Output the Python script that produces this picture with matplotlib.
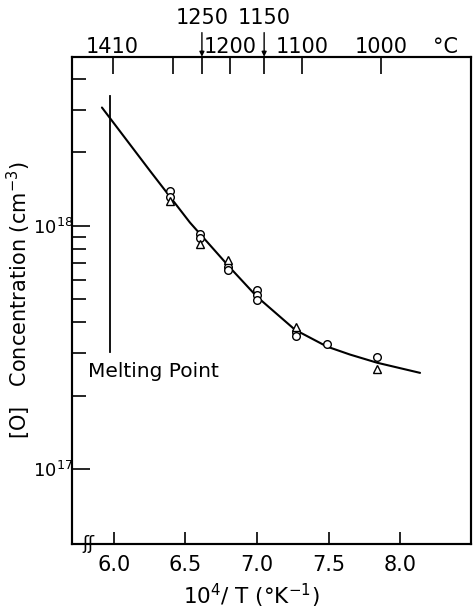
import matplotlib
matplotlib.use("Agg")
import matplotlib.pyplot as plt
from matplotlib.ticker import FixedLocator, NullFormatter, NullLocator

plt.rcParams['font.family'] = ['DejaVu Sans']
plt.rcParams['mathtext.default'] = 'regular'

# ---- data ----
curve_x = [5.916, 6.252, 6.531, 6.811, 7.0, 7.266, 7.49, 7.65, 7.84, 8.14]
curve_y = [3.06e18, 1.68e18, 1.03e18, 6.72e17, 5.1e17, 3.73e17, 3.18e17, 2.95e17, 2.73e17, 2.48e17]

circle_x = [6.39, 6.39, 6.60, 6.60, 6.80, 6.80, 7.0, 7.0, 7.0, 7.27, 7.27, 7.49, 7.84]
circle_y = [1.39e18, 1.31e18, 9.27e17, 8.93e17, 6.78e17, 6.59e17, 5.46e17, 5.20e17, 4.96e17,
            3.66e17, 3.52e17, 3.27e17, 2.89e17]
tri_x = [6.39, 6.60, 6.80, 7.27, 7.84]
tri_y = [1.26e18, 8.43e17, 7.24e17, 3.84e17, 2.58e17]

melt_x = 5.975
melt_y = [3.03e17, 3.4e18]

bottom_ticks = [6.0, 6.5, 7.0, 7.5, 8.0]
bottom_labels = ['6.0', '6.5', '7.0', '7.5', '8.0']

top_tick_C = [1410, 1300, 1250, 1200, 1150, 1100, 1000]
top_tick_x = [5.99, 6.41, 6.615, 6.81, 7.05, 7.315, 7.867]
top_row1 = ['1410', '', '', '1200', '', '1100', '1000']
arrow_labels = {1250: '1250', 1150: '1150'}

fig = plt.figure(figsize=(4.73, 6.10), dpi=100)
ax = fig.add_axes([0.152, 0.108, 0.844, 0.799])

ax.set_yscale('log')
ax.set_xlim(5.706, 8.497)
ax.set_ylim(4.9e16, 4.95e18)

ax.plot(curve_x, curve_y, color='black', lw=1.5, solid_capstyle='round')
ax.plot(circle_x, circle_y, linestyle='none', marker='o', ms=5.5, mfc='white', mec='black', mew=1.0)
ax.plot(tri_x, tri_y, linestyle='none', marker='^', ms=5.5, mfc='white', mec='black', mew=1.0)
ax.plot([melt_x, melt_x], melt_y, color='black', lw=1.3)
ax.text(5.82, 2.75e17, 'Melting Point', fontsize=14.5, ha='left', va='top')

# axes styling
for s in ax.spines.values():
    s.set_linewidth(1.5)

ax.set_xticks(bottom_ticks)
ax.set_xticklabels(bottom_labels, fontsize=15)
ax.tick_params(axis='x', which='major', direction='in', length=9, width=1.2, pad=8, top=False)
ax.xaxis.set_minor_locator(NullLocator())

ax.yaxis.set_major_locator(FixedLocator([1e17, 1e18]))
ax.set_yticklabels(['$10^{17}$', '$10^{18}$'], fontsize=13)
minor = [m * 1e17 for m in range(2, 10)] + [m * 1e18 for m in range(2, 6)]
ax.yaxis.set_minor_locator(FixedLocator(minor))
ax.yaxis.set_minor_formatter(NullFormatter())
ax.tick_params(axis='y', which='major', direction='in', length=13, width=1.2, pad=-1, right=False)
ax.tick_params(axis='y', which='minor', direction='in', length=10, width=1.2, right=False)

ax.set_ylabel('[O]   Concentration (cm$^{-3}$)', fontsize=15)
ax.yaxis.set_label_coords(-0.098, 0.5)
ax.set_xlabel('10$^4$/ T (°K$^{-1}$)', fontsize=15.5)
ax.xaxis.set_label_coords(0.45, -0.078)

# axis break mark
ax.text(0.042, 0.0, 'ʃʃ', transform=ax.transAxes, fontsize=13, ha='center', va='center')

# top temperature axis
tax = ax.twiny()
tax.set_xlim(ax.get_xlim())
tax.set_xticks(top_tick_x)
tax.set_xticklabels(top_row1, fontsize=15)
tax.tick_params(axis='x', direction='in', length=12, width=1.2, pad=0)
tax.xaxis.set_minor_locator(NullLocator())
for s in tax.spines.values():
    s.set_linewidth(1.5)

for c, x in zip(top_tick_C, top_tick_x):
    if c in arrow_labels:
        tax.annotate(arrow_labels[c], xy=(x, 1.0), xycoords=('data', 'axes fraction'),
                     xytext=(x, 1.058), textcoords=('data', 'axes fraction'),
                     ha='center', va='bottom', fontsize=15,
                     arrowprops=dict(arrowstyle='-|>', color='black', lw=1.0,
                                     mutation_scale=7, shrinkA=1, shrinkB=0))
tax.text(8.32, 1.0, '°C', transform=tax.get_xaxis_transform(), fontsize=15,
         ha='center', va='bottom')

fig.savefig('out.png', dpi=100, facecolor='white')
